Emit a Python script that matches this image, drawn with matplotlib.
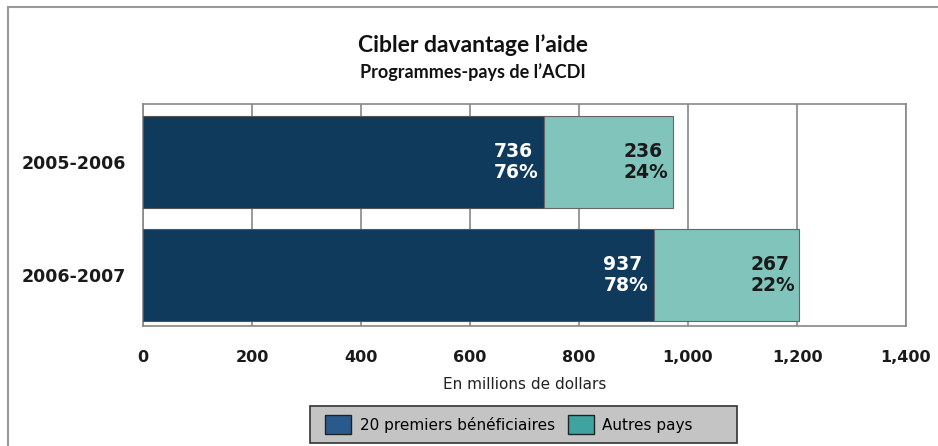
import matplotlib
matplotlib.use("Agg")
import matplotlib.pyplot as plt
from matplotlib.patches import Rectangle

years = ["2005-2006", "2006-2007"]
top20 = [736, 937]
others = [236, 267]
top20_pct = ["76%", "78%"]
others_pct = ["24%", "22%"]
xticks = [0, 200, 400, 600, 800, 1000, 1200, 1400]
xticklabels = ["0", "200", "400", "600", "800", "1,000", "1,200", "1,400"]

dark = "#0f3a5c"
teal = "#80c4bc"
leg_dark = "#2a5a8c"
leg_teal = "#3fa3a0"

W, H = 938, 446
plt.rcParams['font.family'] = ['DejaVu Sans']
fig = plt.figure(figsize=(W/100, H/100), dpi=100)
fig.patches.append(Rectangle((0.008, -0.01), 1.2, 0.995, transform=fig.transFigure,
                             fill=False, edgecolor="#999999", lw=1.5))
ax = fig.add_axes([143/W, 1-326/H, (906-143)/W, (326-104)/H])

ypos = list(range(len(years)))
h = 0.82
ax.barh(ypos, top20, height=h, color=dark, edgecolor="#555555", lw=0.8, zorder=3)
ax.barh(ypos, others, left=top20, height=h, color=teal, edgecolor="#666666", lw=0.8, zorder=3)

for i in ypos:
    ax.annotate(f"{top20[i]}\n{top20_pct[i]}", (top20[i], i), xytext=(-4, 0),
                textcoords="offset points", ha="right", va="center", multialignment="left",
                color="white", fontsize=13.5, fontweight="bold", linespacing=1.1, zorder=4)
    end = top20[i] + others[i]
    ax.annotate(f"{others[i]}\n{others_pct[i]}", (end, i), xytext=(-3, 0),
                textcoords="offset points", ha="right", va="center", multialignment="left",
                color="#1a1a1a", fontsize=13.5, fontweight="bold", linespacing=1.1, zorder=4)

ax.set_xlim(0, 1400)
ax.set_ylim(1.45, -0.513)
ax.set_xticks(xticks)
ax.set_xticklabels(xticklabels, fontsize=11.5, fontweight="bold", color="#1a1a1a")
ax.set_yticks(ypos)
ax.set_yticklabels(years, fontsize=12.5, fontweight="bold", color="#1a1a1a")
ax.tick_params(axis="both", length=0)
ax.tick_params(axis="x", pad=17)
ax.tick_params(axis="y", pad=12)
ax.grid(axis="x", color="#888888", lw=1.2, zorder=0)
for s in ax.spines.values():
    s.set_color("#888888")
    s.set_linewidth(1.2)

ax.set_xlabel("En millions de dollars", fontsize=11, labelpad=9, color="#222222")

title_fam = ["Lato", "DejaVu Sans"]
fig.text(0.504, 1-45/H, "Cibler davantage l\u2019aide", ha="center", va="center",
         fontsize=16.5, fontweight="bold", color="#111111", family=title_fam)
fig.text(0.504, 1-72/H, "Programmes-pays de l\u2019ACDI", ha="center", va="center",
         fontsize=13, fontweight="bold", color="#111111", family=title_fam)

# legend frame box
fig.patches.append(Rectangle((310/W, 1-443/H), (737-310)/W, (443-406)/H,
                             transform=fig.transFigure, facecolor="#c4c4c4",
                             edgecolor="#333333", lw=1.2, zorder=1))
handles = [Rectangle((0, 0), 1, 1, facecolor=leg_dark, edgecolor="#222222"),
           Rectangle((0, 0), 1, 1, facecolor=leg_teal, edgecolor="#222222")]
leg = fig.legend(handles, ["20 premiers b\u00e9n\u00e9ficiaires", "Autres pays"],
                 loc="center", bbox_to_anchor=(509/W, 1-424.5/H), ncol=2,
                 fontsize=11, frameon=False, handlelength=1.7,
                 handleheight=1.6, handletextpad=0.55, columnspacing=0.85, borderpad=0.0)
leg.set_zorder(2)

fig.savefig("out.png", dpi=100)
